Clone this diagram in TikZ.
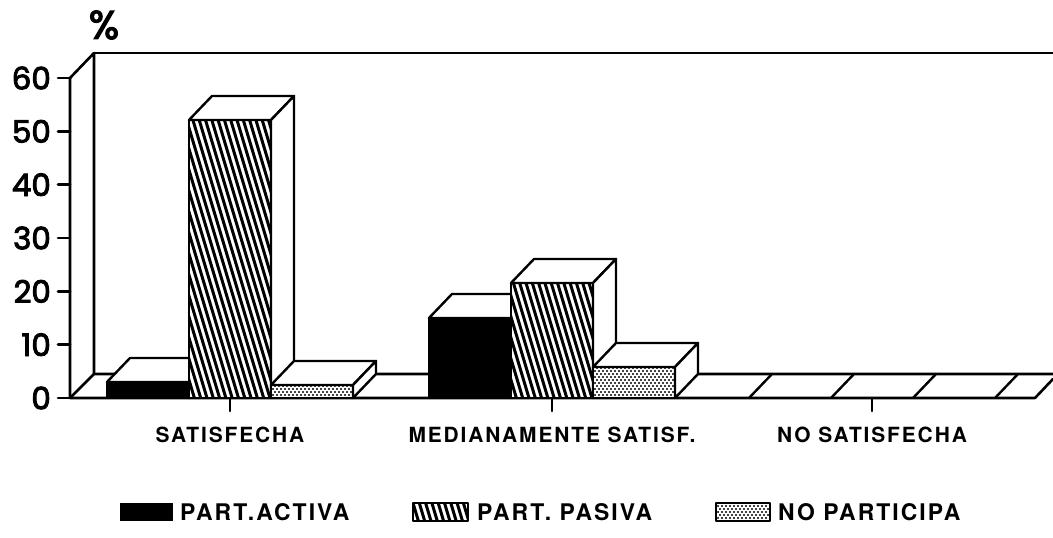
\documentclass[tikz,border=0pt]{standalone}
\usepackage{fontspec}
\setmainfont{TeX Gyre Heros}
\newfontfamily\labfont[LetterSpace=9]{TeX Gyre Heros}
\newfontfamily\digfont[FakeBold=3]{Poppins}
\tikzset{
  frame/.style={line width=2.6bp, line cap=round, line join=round},
  face/.style={draw, fill=white, line width=2.4bp, line join=round},
  edge/.style={draw, line width=2.4bp, line join=round},
  ticklab/.style={anchor=east, inner sep=0pt, font=\digfont\fontsize{31}{32}\selectfont},
  catlab/.style={inner sep=0pt, font=\labfont\bfseries\fontsize{21}{22}\selectfont},
  leglab/.style={anchor=west, inner sep=0pt, font=\labfont\bfseries\fontsize{23}{24}\selectfont}
}
\newcommand\hatchrect[4]{%
  \begin{scope}
    \clip (#1,#2) rectangle (#3,#4);
    \fill[white] (#1,#2) rectangle (#3,#4);
    \foreach \k in {0,...,32}{\draw[line width=3bp,line cap=butt] ({#1+\k*6.3},{#4+3}) -- ++(-96,-320);}
  \end{scope}}
\newcommand\dotrect[4]{%
  \begin{scope}
    \clip (#1,#2) rectangle (#3,#4);
    \fill[white] (#1,#2) rectangle (#3,#4);
    \foreach \r in {0,...,12}{\foreach \c in {0,...,22}{\fill ({#1+\c*4+mod(\r,2)*2},{#4-\r*3}) circle (1.1bp);}}
  \end{scope}}
\newcommand\cbar[3]{%
  \pgfmathsetmacro\xa{#1}\pgfmathsetmacro\xb{#1+82}\pgfmathsetmacro\yt{#2}%
  \ifcase#3\relax
  \or \fill[black] (\xa,398) rectangle (\xb,\yt);
  \or \hatchrect{\xa}{\yt}{\xb}{398}
  \or \dotrect{\xa}{\yt}{\xb}{398}
  \fi
  \draw[edge] (\xa,398) rectangle (\xb,\yt);
  \draw[face] (\xa,\yt) -- ++(23,-24) -- ++(82,0) -- (\xb,\yt) -- cycle;
  \draw[face] (\xb,398) -- (\xb,\yt) -- ++(23,-24) -- (\xb+23,374) -- cycle;
}
\newcommand\zbar[1]{\draw[edge] (#1,398) -- ++(23,-24);}
\begin{document}
\begin{tikzpicture}[x=1bp,y=-1bp]
\useasboundingbox (0,0) rectangle (1053,538);
% walls and floor
\draw[frame] (70,78) -- (94,53) -- (94,374);
\draw[frame] (94,53) -- (1053,53);
\draw[frame] (70,398) -- (94,374) -- (1053,374);
\draw[frame] (70,78) -- (70,398) -- (1035,398) -- (1053,379);
% y ticks
\foreach \v in {0,10,...,60}{
  \draw[frame] (58,{398-\v*5.333}) -- (70,{398-\v*5.333});
  \node[ticklab] (t\v) at (51,{398-\v*5.333}) {\v};
}
\node[inner sep=0pt, font=\digfont\fontsize{40}{40}\selectfont] (pct) at (104,25) {\%};
% x ticks
\foreach \c in {230,552,872}{\draw[frame] (\c,398) -- (\c,411);}
% bars: SATISFECHA
\cbar{107}{382}{1}
\cbar{189}{120}{2}
\cbar{271}{385}{3}
% MEDIANAMENTE SATISF.
\cbar{429}{318}{1}
\cbar{511}{283}{2}
\cbar{593}{367}{3}
% NO SATISFECHA (zero)
\zbar{749}\zbar{831}\zbar{913}\zbar{995}
% category labels
\node[catlab] (c1) at (230,435) {SATISFECHA};
\node[catlab] (c2) at (552,435) {MEDIANAMENTE SATISF.};
\node[catlab] (c3) at (872,435) {NO SATISFECHA};
% legend
\fill[black] (120,503) rectangle (173,521);
\hatchrect{413}{503}{468}{521}
\draw[edge, line width=1.6bp] (413,503) rectangle (468,521);
\dotrect{716}{503}{770}{521}
\draw[edge, line width=1.6bp] (716,503) rectangle (770,521);
\node[leglab] (l1) at (180,512) {PART.ACTIVA};
\node[leglab] (l2) at (477,512) {PART. PASIVA};
\node[leglab] (l3) at (778,512) {NO PARTICIPA};
\end{tikzpicture}
\end{document}
